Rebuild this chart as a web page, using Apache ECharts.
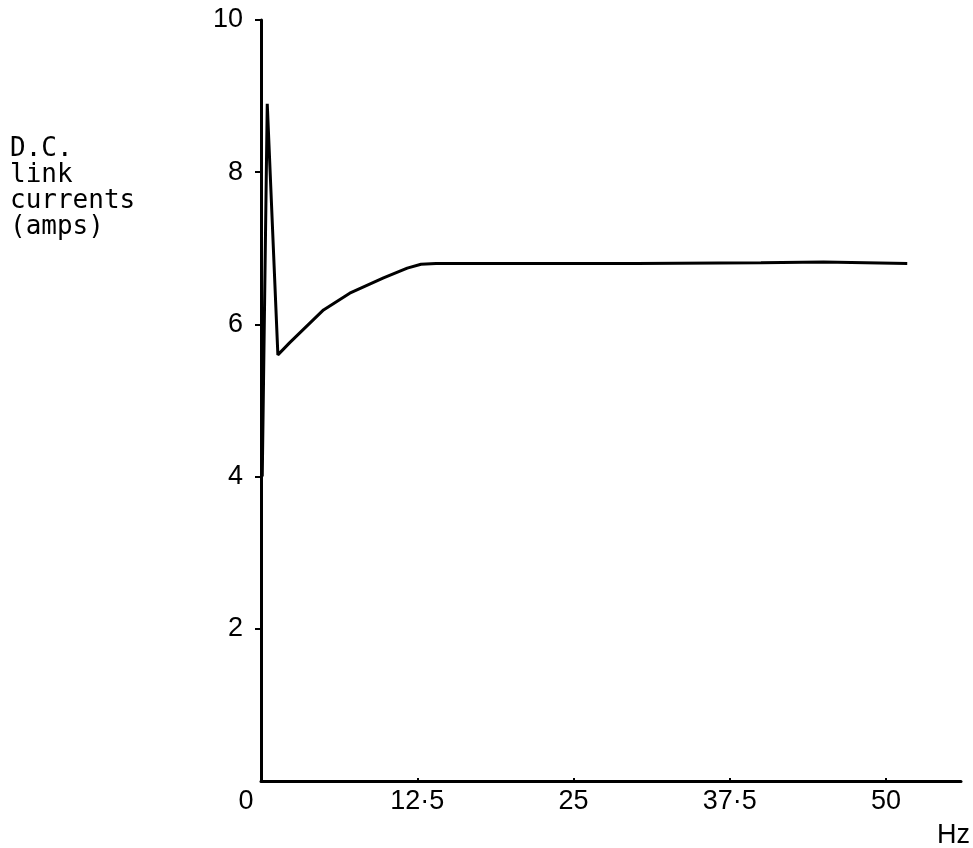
<!DOCTYPE html>
<html>
<head>
<meta charset="utf-8">
<script src="https://cdn.jsdelivr.net/npm/echarts@6/dist/echarts.min.js"></script>
<style>
  html, body { margin: 0; padding: 0; background: #fff; }
  #chart { width: 973px; height: 848px; }
</style>
</head>
<body>
<div id="chart"></div>
<script>
// Frequency (Hz) and D.C. link current (amps) along the trace
const freqHz = [0.1, 0.5, 1.35, 2.3, 5.0, 7.1, 9.8, 11.7, 12.8, 14, 20, 30, 40, 45, 51.7];
const linkCurrent = [4.0, 8.9, 5.6, 5.76, 6.19, 6.41, 6.61, 6.74, 6.79, 6.8, 6.8, 6.8, 6.81, 6.82, 6.8];

// Axis tick values and their printed labels
const xTickValues = [0, 12.5, 25, 37.5, 50];
const xTickLabels = ['0', '12·5', '25', '37·5', '50'];
const yTickValues = [2, 4, 6, 8, 10];
const yTickLabels = ['2', '4', '6', '8', '10'];

const yAxisTitle = 'D.C.\nlink\ncurrents\n(amps)';
const xAxisTitle = 'Hz';

const labelFont = "'Liberation Sans', 'Arial', sans-serif";
const monoFont = "'DejaVu Sans Mono', 'Liberation Mono', monospace";

const chart = echarts.init(document.getElementById('chart'), null, { renderer: 'canvas' });

chart.setOption({
  backgroundColor: '#ffffff',
  animation: false,
  grid: { left: 261, right: 12, top: 20, bottom: 67 },
  xAxis: {
    type: 'value',
    min: 0,
    max: 56,
    interval: 12.5,
    splitLine: { show: false },
    axisLine: { lineStyle: { color: '#000', width: 3 } },
    axisTick: {
      show: true, inside: true, length: 3,
      customValues: xTickValues,
      lineStyle: { color: '#000', width: 2 }
    },
    axisLabel: {
      customValues: xTickValues,
      margin: 7,
      color: '#000',
      fontFamily: labelFont,
      fontSize: 27,
      formatter: function (v) {
        const i = xTickValues.indexOf(v);
        if (i < 0) return '';
        return i === 0 ? '{zero|' + xTickLabels[i] + '}' : xTickLabels[i];
      },
      rich: {
        zero: { fontFamily: labelFont, fontSize: 27, color: '#000', padding: [0, 30, 0, 0] }
      }
    }
  },
  yAxis: {
    type: 'value',
    min: 0,
    max: 10,
    interval: 2,
    splitLine: { show: false },
    axisLine: { lineStyle: { color: '#000', width: 3 } },
    axisTick: {
      show: true, length: 6,
      customValues: yTickValues,
      lineStyle: { color: '#000', width: 2 }
    },
    axisLabel: {
      customValues: yTickValues,
      margin: 18,
      color: '#000',
      fontFamily: labelFont,
      fontSize: 27,
      formatter: function (v) {
        const i = yTickValues.indexOf(v);
        return i < 0 ? '' : yTickLabels[i];
      }
    }
  },
  title: {
    text: yAxisTitle,
    left: 10,
    top: 136,
    padding: 0,
    textStyle: {
      fontFamily: monoFont,
      fontWeight: 'normal',
      fontSize: 26,
      lineHeight: 26,
      color: '#000'
    }
  },
  graphic: [{
    type: 'text',
    left: 937,
    top: 822,
    style: {
      text: xAxisTitle,
      font: "27px 'Liberation Sans', sans-serif",
      fill: '#000'
    }
  }],
  series: [{
    type: 'line',
    data: freqHz.map((f, i) => [f, linkCurrent[i]]),
    showSymbol: false,
    smooth: false,
    lineStyle: { color: '#000', width: 3 }
  }]
});
</script>
</body>
</html>
